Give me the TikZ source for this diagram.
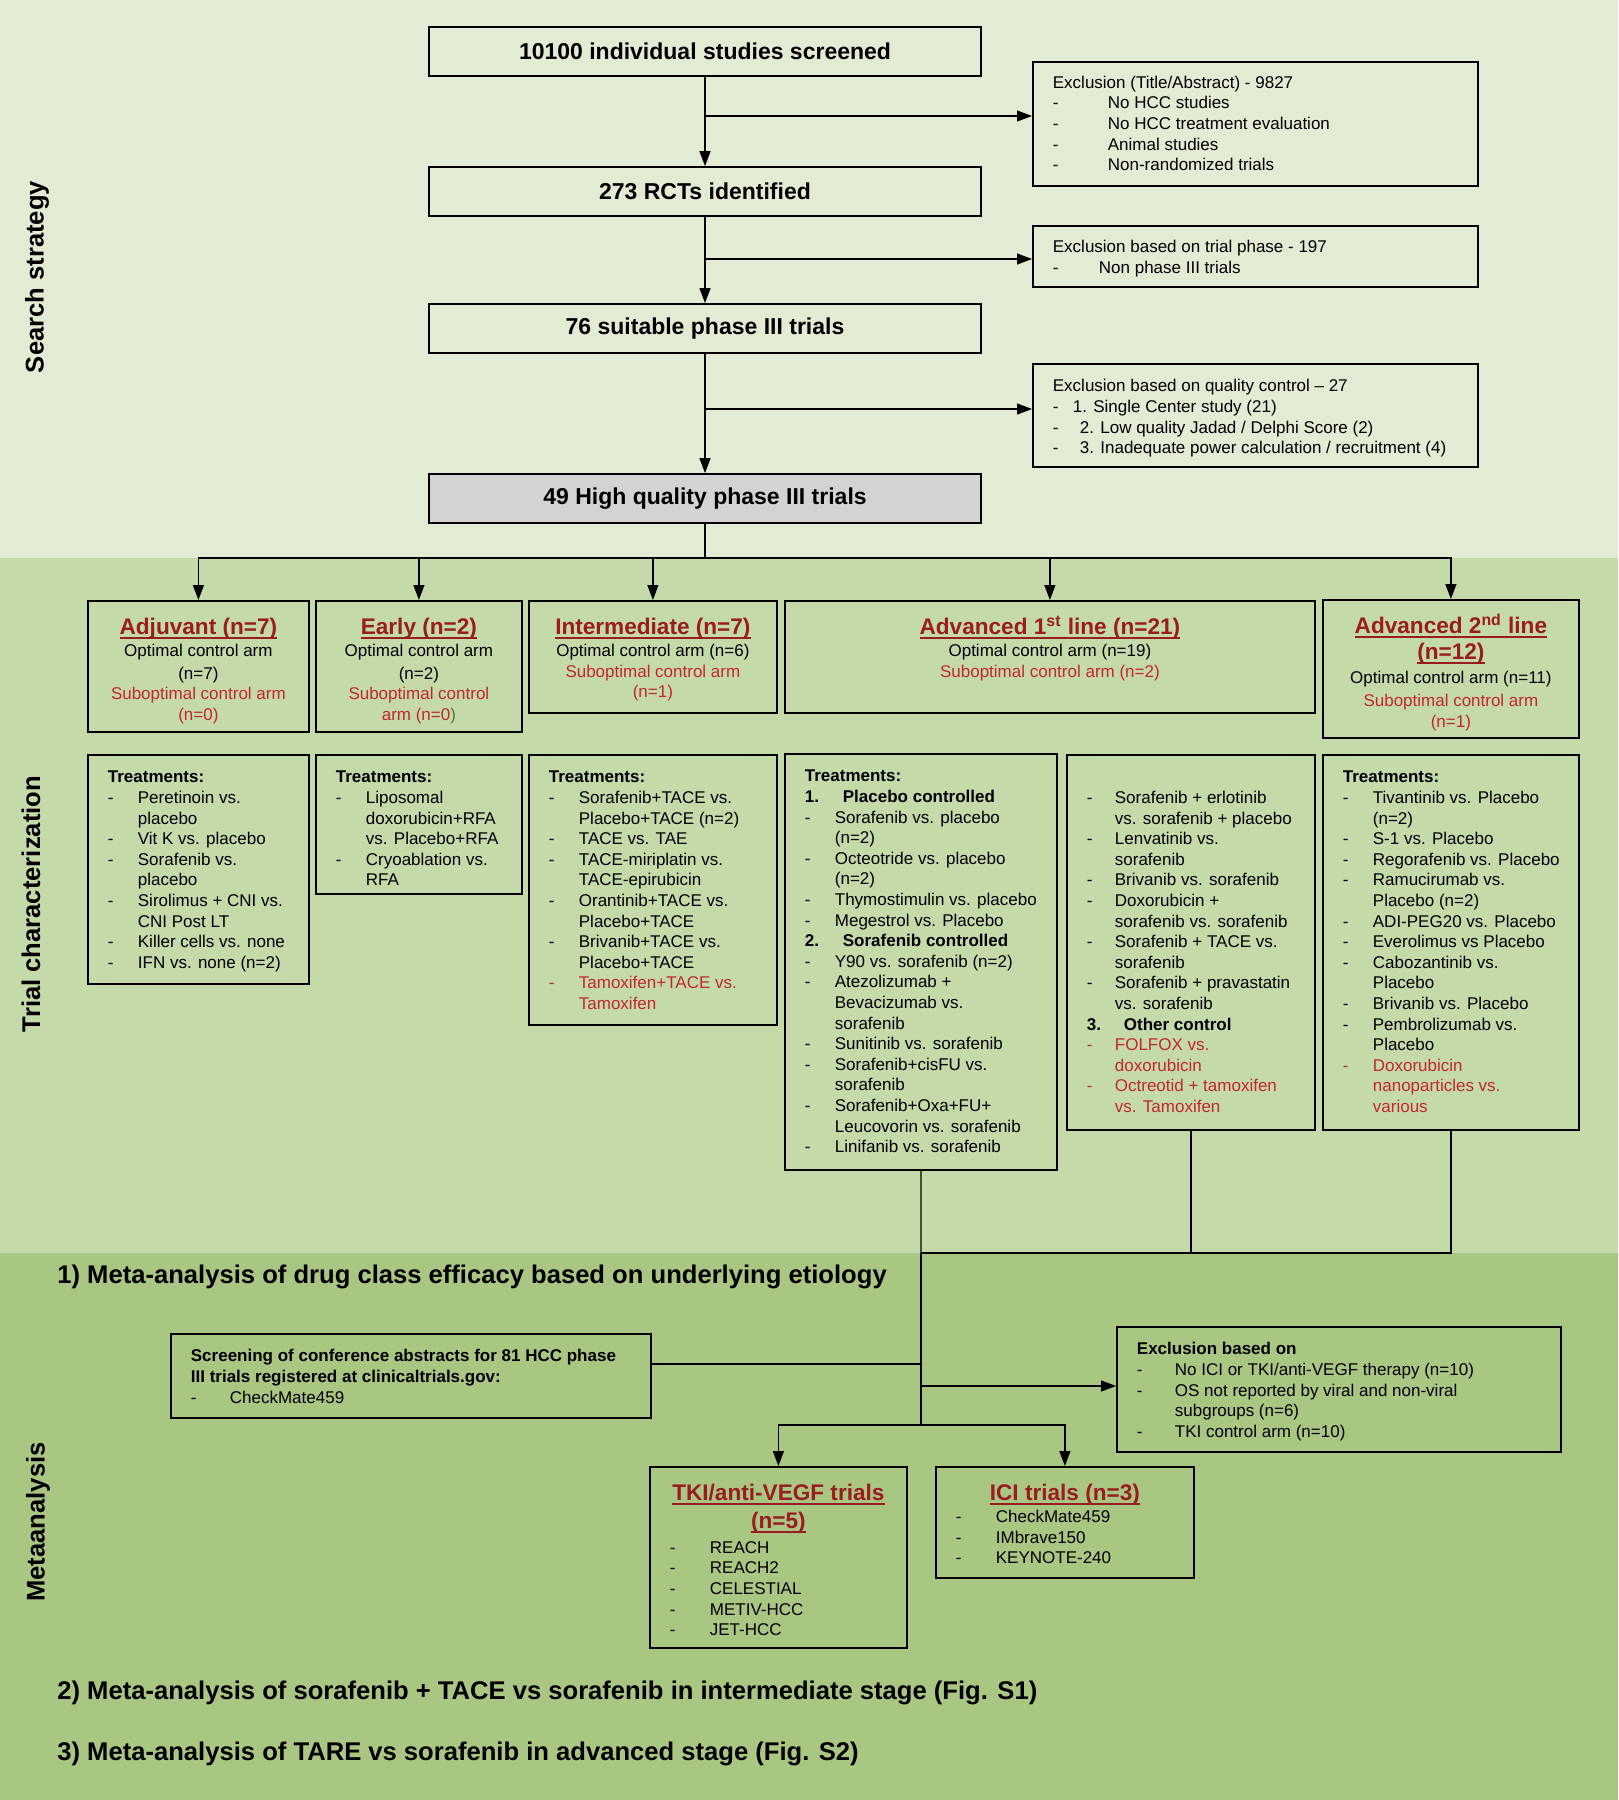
\documentclass[tikz,border=0pt]{standalone}
\usepackage{fontspec}
\setmainfont{Liberation Sans}
\usetikzlibrary{arrows.meta}

\definecolor{bandtop}{HTML}{E2EBD4}
\definecolor{bandmid}{HTML}{C5DAA9}
\definecolor{bandlow}{HTML}{A9C682}
\definecolor{hqgray}{HTML}{D3D3D3}
\definecolor{hdrred}{HTML}{9A1C20}
\definecolor{subred}{HTML}{C4262B}
\definecolor{olive}{HTML}{557A2E}

\newcommand{\tb}[4][14pt]{\parbox[c][#3][t]{#2}{\rule{0pt}{#1}#4}}
\newcommand{\ulin}[1]{\leavevmode\setbox0=\hbox{#1}\rlap{\rule[-2.2pt]{\wd0}{1.1pt}}\box0}
\newcommand{\hdr}[1]{{\color{hdrred}\bfseries\fontsize{11.3}{12}\selectfont\ulin{#1}}}
\newcommand{\itm}[1][15pt]{\makebox[#1][l]{-}}
\newcommand{\cnt}[1][15pt]{\hspace*{#1}}
\newcommand{\subopt}[1]{\textcolor{subred}{#1}}

\begin{document}
\begin{tikzpicture}[
  x=0.5pt, y=-0.5pt,
  mainbox/.style={draw, line width=0.9pt, minimum width=276pt, minimum height=24.5pt, inner sep=0pt, font=\bfseries\fontsize{11.5}{13}\selectfont},
  tbox/.style={draw, line width=0.9pt, anchor=north west, inner xsep=10pt, inner ysep=0pt, font=\fontsize{8.5}{10.3}\selectfont},
  sidelabel/.style={rotate=90, inner sep=0pt, font=\bfseries\fontsize{12.8}{14}\selectfont},
  sectitle/.style={anchor=west, inner sep=0pt, font=\bfseries\fontsize{12.8}{14}\selectfont},
  line/.style={line width=0.6pt},
  arrow/.style={-{Triangle[length=7.5pt,width=5.5pt]}, line width=0.6pt}
]
\useasboundingbox (0,0) rectangle (1618,1800);
\fill[bandtop] (0,0) rectangle (1618,558);
\fill[bandmid] (0,558) rectangle (1618,1253);
\fill[bandlow] (0,1253) rectangle (1618,1800);

\node (lblsearch) [sidelabel] at (37,277) {Search strategy};
\node (lbltrial) [sidelabel] at (31,904) {Trial characterization};
\node (lblmeta) [sidelabel] at (38,1522) {Metaanalysis};

% search strategy
\node (scr) [mainbox] at (705,51.5) {10100 individual studies screened};
\node (rct) [mainbox] at (705,191.5) {273 RCTs identified};
\node (suit) [mainbox] at (705,328.5) {76 suitable phase III trials};
\node (hq) [mainbox, fill=hqgray] at (705,498.5) {49 High quality phase III trials};

\node (exc1) [tbox] at (1032,61) {\tb[13.2pt]{202.5pt}{62pt}{\raggedright
  Exclusion (Title/Abstract) - 9827\\
  \itm[27.5pt]No HCC studies\\
  \itm[27.5pt]No HCC treatment evaluation\\
  \itm[27.5pt]Animal studies\\
  \itm[27.5pt]Non-randomized trials}};
\node (exc2) [tbox] at (1032,225) {\tb[13.5pt]{202.5pt}{30.5pt}{\raggedright
  Exclusion based on trial phase - 197\\
  \itm[23pt]Non phase III trials}};
\node (exc3) [tbox] at (1032,363) {\tb{202.5pt}{51.5pt}{\raggedright
  Exclusion based on quality control -- 27\\
  \itm[10pt]1. Single Center study (21)\\
  \itm[13.5pt]2. Low quality Jadad / Delphi Score (2)\\
  \itm[13.5pt]3. Inadequate power calculation / recruitment (4)}};

\coordinate (b1) at (705,116);
\coordinate (b2) at (705,259);
\coordinate (b3) at (705,409);
\draw[arrow] (scr) -- (rct);
\draw[arrow] (rct) -- (suit);
\draw[arrow] (suit) -- (hq);
\draw[arrow] (b1) -- (b1 -| exc1.west);
\draw[arrow] (b2) -- (b2 -| exc2.west);
\draw[arrow] (b3) -- (b3 -| exc3.west);

% trial characterization
\node (adj) [tbox] at (87,600) {\tb[17pt]{90.5pt}{65.5pt}{\centering
  \hdr{Adjuvant (n=7)}\\[0.5pt]
  Optimal control arm\\[1pt]
  (n=7)\\
  \subopt{Suboptimal control arm\\ (n=0)}}};
\node (early) [tbox] at (315,600) {\tb[17pt]{83pt}{65.5pt}{\centering
  \hdr{Early (n=2)}\\[0.5pt]
  Optimal control arm\\[1pt]
  (n=2)\\
  \subopt{Suboptimal control\\ arm (n=0}\textcolor{olive}{)}}};
\node (inter) [tbox] at (528,600) {\tb[17pt]{104pt}{56pt}{\centering
  \hdr{Intermediate (n=7)}\\[0.5pt]
  Optimal control arm (n=6)\\
  \subopt{Suboptimal control arm\\ (n=1)}}};
\node (advA) [tbox] at (784,600) {\tb[17pt]{245pt}{56pt}{\centering
  \hdr{Advanced 1\textsuperscript{st} line (n=21)}\\[0.5pt]
  Optimal control arm (n=19)\\
  \subopt{Suboptimal control arm (n=2)}}};
\node (advB) [tbox] at (1322,599) {\tb[17pt]{108pt}{69pt}{\centering
  \hdr{Advanced 2\textsuperscript{nd} line}\\[1.5pt]
  \hdr{(n=12)}\\[1.5pt]
  Optimal control arm (n=11)\\[1.5pt]
  \subopt{Suboptimal control arm\\ (n=1)}}};

\coordinate (split) at (705,558);
\draw[line] (hq) -- (split);
\foreach \stage in {adj,early,inter,advA,advB}
  \draw[arrow] (split) -| (\stage.north);

\node (trAdj) [tbox] at (87,754) {\tb{90.5pt}{114.5pt}{\raggedright
  \textbf{Treatments:}\\
  \itm Peretinoin vs.\\ \cnt placebo\\
  \itm Vit K vs. placebo\\
  \itm Sorafenib vs.\\ \cnt placebo\\
  \itm Sirolimus + CNI vs.\\ \cnt CNI Post LT\\
  \itm Killer cells vs. none\\
  \itm IFN vs. none (n=2)}};
\node (trEarly) [tbox] at (315,754) {\tb{83pt}{69.5pt}{\raggedright
  \textbf{Treatments:}\\
  \itm Liposomal\\ \cnt doxorubicin+RFA\\ \cnt vs. Placebo+RFA\\
  \itm Cryoablation vs.\\ \cnt RFA}};
\node (trInter) [tbox] at (528,754) {\tb{104pt}{135pt}{\raggedright
  \textbf{Treatments:}\\
  \itm Sorafenib+TACE vs.\\ \cnt Placebo+TACE (n=2)\\
  \itm TACE vs. TAE\\
  \itm TACE-miriplatin vs.\\ \cnt TACE-epirubicin\\
  \itm Orantinib+TACE vs.\\ \cnt Placebo+TACE\\
  \itm Brivanib+TACE vs.\\ \cnt Placebo+TACE\\
  \subopt{\itm Tamoxifen+TACE vs.\\ \cnt Tamoxifen}}};
\node (trAdvA) [tbox] at (784,753) {\tb{116pt}{208pt}{\raggedright
  \textbf{Treatments:}\\
  \textbf{\makebox[19pt][l]{1.}Placebo controlled}\\
  \itm Sorafenib vs. placebo\\ \cnt (n=2)\\
  \itm Octeotride vs. placebo\\ \cnt (n=2)\\
  \itm Thymostimulin vs. placebo\\
  \itm Megestrol vs. Placebo\\
  \textbf{\makebox[19pt][l]{2.}Sorafenib controlled}\\
  \itm Y90 vs. sorafenib (n=2)\\
  \itm Atezolizumab +\\ \cnt Bevacizumab vs.\\ \cnt sorafenib\\
  \itm Sunitinib vs. sorafenib\\
  \itm Sorafenib+cisFU vs.\\ \cnt sorafenib\\
  \itm Sorafenib+Oxa+FU+\\ \cnt Leucovorin vs. sorafenib\\
  \itm Linifanib vs. sorafenib}};
\node (trAdvB) [tbox] at (1066,754) {\tb{104pt}{187.5pt}{\raggedright
  \\
  \itm[14pt]Sorafenib + erlotinib\\ \cnt[14pt]vs. sorafenib + placebo\\
  \itm[14pt]Lenvatinib vs.\\ \cnt[14pt]sorafenib\\
  \itm[14pt]Brivanib vs. sorafenib\\
  \itm[14pt]Doxorubicin +\\ \cnt[14pt]sorafenib vs. sorafenib\\
  \itm[14pt]Sorafenib + TACE vs.\\ \cnt[14pt]sorafenib\\
  \itm[14pt]Sorafenib + pravastatin\\ \cnt[14pt]vs. sorafenib\\
  \textbf{\makebox[18.5pt][l]{3.}Other control}\\
  \subopt{\itm[14pt]FOLFOX vs.\\ \cnt[14pt]doxorubicin\\
  \itm[14pt]Octreotid + tamoxifen\\ \cnt[14pt]vs. Tamoxifen}}};
\node (trAdvC) [tbox] at (1322,754) {\tb{108pt}{187.5pt}{\raggedright
  \textbf{Treatments:}\\
  \itm Tivantinib vs. Placebo\\ \cnt (n=2)\\
  \itm S-1 vs. Placebo\\
  \itm \mbox{Regorafenib vs. Placebo}\\
  \itm Ramucirumab vs.\\ \cnt Placebo (n=2)\\
  \itm ADI-PEG20 vs. Placebo\\
  \itm Everolimus vs Placebo\\
  \itm Cabozantinib vs.\\ \cnt Placebo\\
  \itm Brivanib vs. Placebo\\
  \itm Pembrolizumab vs.\\ \cnt Placebo\\
  \subopt{\itm Doxorubicin\\ \cnt nanoparticles vs.\\ \cnt various}}};

% metaanalysis
\node (meta1) [sectitle] at (57,1277) {1) Meta-analysis of drug class efficacy based on underlying etiology};
\node (meta2) [sectitle] at (57,1693) {2) Meta-analysis of sorafenib + TACE vs sorafenib in intermediate stage (Fig. S1)};
\node (meta3) [sectitle] at (57,1754) {3) Meta-analysis of TARE vs sorafenib in advanced stage (Fig. S2)};

\node (screen) [tbox] at (170,1333) {\tb{220pt}{42pt}{\raggedright
  \textbf{Screening of conference abstracts for 81 HCC phase}\\
  \textbf{III trials registered at clinicaltrials.gov:}\\
  \itm[19.5pt]CheckMate459}};
\node (excm) [tbox] at (1116,1326) {\tb{202pt}{62.5pt}{\raggedright
  \textbf{Exclusion based on}\\
  \itm[19pt]No ICI or TKI/anti-VEGF therapy (n=10)\\
  \itm[19pt]OS not reported by viral and non-viral\\ \cnt[19pt]subgroups (n=6)\\
  \itm[19pt]TKI control arm (n=10)}};
\node (tki) [tbox] at (649,1466) {\tb[17pt]{108.5pt}{90.5pt}{\centering
  \hdr{TKI/anti-VEGF trials}\\[2.5pt]
  \hdr{(n=5)}\par\vspace{2pt}\raggedright
  \itm[20pt]REACH\\
  \itm[20pt]REACH2\\
  \itm[20pt]CELESTIAL\\
  \itm[20pt]METIV-HCC\\
  \itm[20pt]JET-HCC}};
\node (ici) [tbox] at (935,1466) {\tb[17pt]{109pt}{55.5pt}{\centering
  \hdr{ICI trials (n=3)}\par\vspace{0.5pt}\raggedright
  \itm[20pt]CheckMate459\\
  \itm[20pt]IMbrave150\\
  \itm[20pt]KEYNOTE-240}};

\coordinate (join) at (921,1253);
\coordinate (sj) at (921,1364);
\coordinate (ej) at (921,1386);
\coordinate (fork) at (921,1425);
\draw[line] (trAdvA.south) -- (join);
\draw[line] (trAdvB.south) |- (join);
\draw[line] (trAdvC.south) |- (join);
\draw[line] (join) -- (fork);
\draw[line] (sj -| screen.east) -- (sj);
\draw[arrow] (ej) -- (ej -| excm.west);
\draw[arrow] (fork) -| (tki.north);
\draw[arrow] (fork) -| (ici.north);

\end{tikzpicture}
\end{document}
